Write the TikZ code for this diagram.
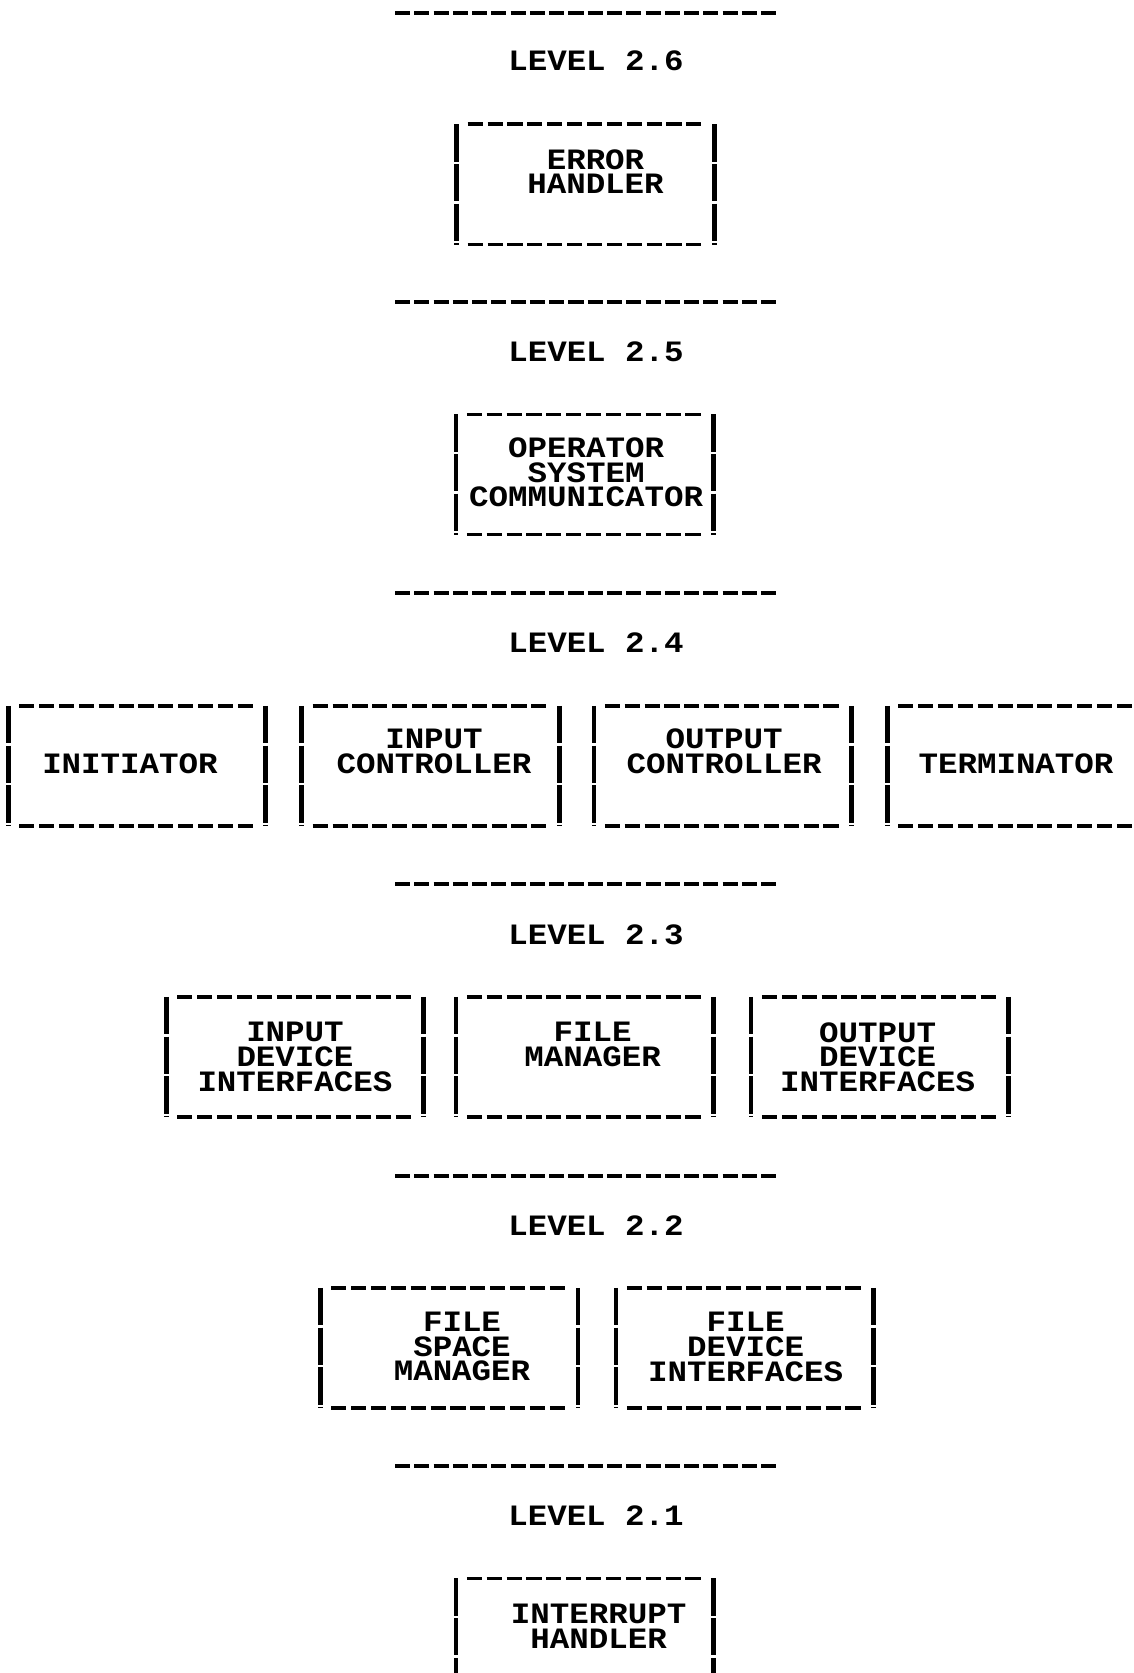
\documentclass[tikz,border=0pt]{standalone}
\usepackage{fontspec}
\newfontfamily\typer[FakeStretch=1.1]{Liberation Mono}

\begin{document}
\begin{tikzpicture}[
					x=0.01cm,y=-0.01cm,
					unit/.style={minimum width=2.56cm,minimum height=1.19cm,inner sep=0pt},
					utext/.style={align=center,inner sep=0pt,font=\typer\bfseries\fontsize{8.4}{7}\selectfont},
					ltext/.style={inner sep=0pt,font=\typer\bfseries\fontsize{8.4}{11}\selectfont},
					sedge/.style={line width=1.3pt,dash pattern=on 10.6pt off 0.7pt},
					hedge/.style={line width=1pt,dash pattern=on 4.3pt off 1.35pt},
					ledge/.style={line width=1pt,dash pattern=on 4.3pt off 1.18pt}
					]
					\clip (0,0) rectangle (1134,1673);
					\foreach \k/\y/\ly in {6/13/61,5/302/352,4/593/643,3/884/935,2/1176/1226,1/1466/1516}{
						\draw[ledge] (395,\y) -- (777,\y);
						\node[ltext] (l\k) at (596,\ly) {LEVEL 2.\k};
					}
					\foreach \b/\x/\y/\dx/\dy/\t in {eh/585.5/184.5/10/-13/{ERROR\\HANDLER},
						osc/584.6/474.5/1.5/-2/{OPERATOR\\SYSTEM\\COMMUNICATOR},
						init/137/766/-7/-2/{INITIATOR},
						inc/430.5/766/3.5/-14.5/{INPUT\\CONTROLLER},
						outc/722.6/766/1.5/-14.5/{OUTPUT\\CONTROLLER},
						term/1016/766/0/-2/{TERMINATOR},
						idi/295/1057/0/0/{INPUT\\DEVICE\\INTERFACES},
						fm/584.6/1057/8/-12.5/{FILE\\MANAGER},
						odi/879.7/1057/-2/0/{OUTPUT\\DEVICE\\INTERFACES},
						fsm/449/1348/13/-1.3/{FILE\\SPACE\\MANAGER},
						fdi/744.6/1348/1/-1/{FILE\\DEVICE\\INTERFACES},
						ih/584.6/1638.5/14/-12.5/{INTERRUPT\\HANDLER}}{
						\node[unit] (\b) at (\x,\y) {};
						\node[utext] (\b-t) at ([shift={(\dx,\dy)}]\b.center) {\t};
						\draw[sedge] (\b.north west) -- (\b.south west);
						\draw[sedge] (\b.north east) -- (\b.south east);
						\draw[hedge] ([xshift=0.11cm]\b.north west) -- ([xshift=-0.11cm]\b.north east);
						\draw[hedge] ([xshift=0.11cm]\b.south west) -- ([xshift=-0.11cm]\b.south east);
					}
				\end{tikzpicture}
\end{document}
